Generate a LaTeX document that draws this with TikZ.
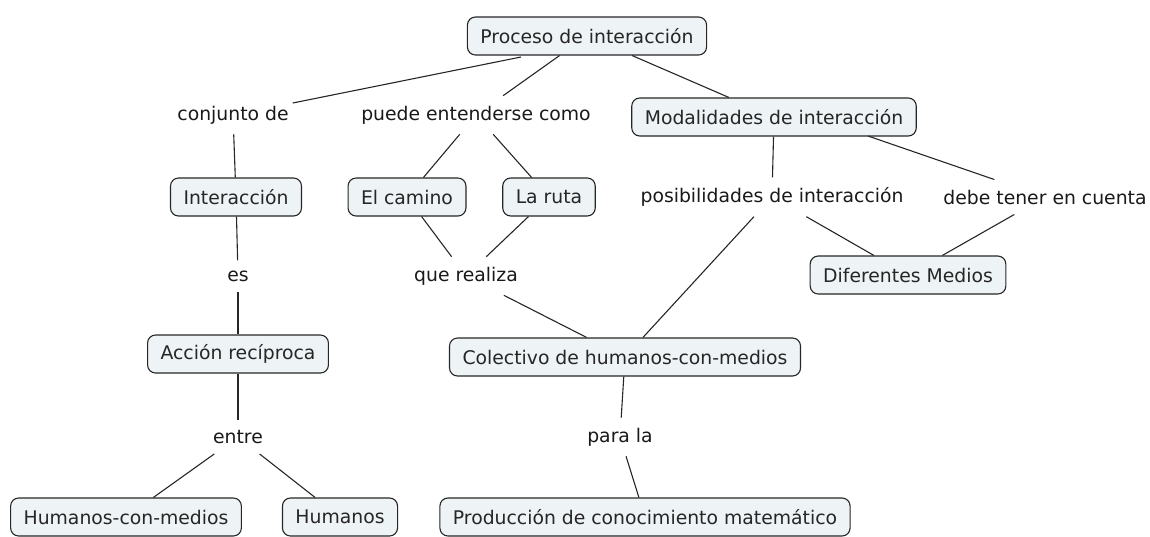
\documentclass[tikz,border=0pt]{standalone}
\usepackage{fontspec}
\setmainfont{DejaVu Sans}
\begin{document}
\begin{tikzpicture}[x=1pt,y=-1pt,
  concept/.style={draw=black!85, line width=1.1pt, rounded corners=8pt, fill=cbox, text=black!85,
    font=\fontsize{18.8}{20}\selectfont, minimum height=38pt, inner xsep=13pt, inner ysep=0pt},
  link/.style={text=black!90, font=\fontsize{18.8}{20}\selectfont, inner xsep=4pt, inner ysep=10pt},
  conn/.style={draw=black!85, line width=1.1pt}]
\definecolor{cbox}{HTML}{EEF3F6}
\useasboundingbox (0,0) rectangle (1150,536);
\node[concept] (proc) at (587,36) {Proceso de interacción};
\node[concept] (moda) at (774,117) {Modalidades de interacción};
\node[concept] (inter) at (236,197) {Interacción};
\node[concept] (cam) at (407,197) {El camino};
\node[concept] (ruta) at (549,197) {La ruta};
\node[concept] (dif) at (908,275) {Diferentes Medios};
\node[concept] (acc) at (238,354) {Acción recíproca};
\node[concept] (col) at (625,357) {Colectivo de humanos-con-medios};
\node[concept] (hcm) at (126,517) {Humanos-con-medios};
\node[concept] (hum) at (340,517) {Humanos};
\node[concept] (prod) at (645,517) {Producción de conocimiento matemático};

\node[link] (conj) at (233,115) {conjunto de};
\node[link] (puede) at (476,115) {puede entenderse como};
\node[link] (posi) at (772,197) {posibilidades de interacción};
\node[link] (debe) at (1045,197) {debe tener en cuenta};
\node[link] (es) at (238,276) {es};
\node[link] (quer) at (466,276) {que realiza};
\node[link] (entre) at (238,437) {entre};
\node[link] (para) at (620,437) {para la};

\coordinate (procL) at (521,57);
\coordinate (modaR) at (868,136);
\draw[conn] (procL) -- (conj);
\draw[conn] (proc) -- (puede);
\draw[conn] (proc) -- (moda);
\draw[conn] (conj) -- (inter);
\draw[conn] (puede) -- (cam);
\draw[conn] (puede) -- (ruta);
\draw[conn] (cam) -- (quer);
\draw[conn] (ruta) -- (quer);
\draw[conn] (quer) -- (col);
\draw[conn] (moda) -- (posi);
\draw[conn] (modaR) -- (debe);
\draw[conn] (posi) -- (col);
\draw[conn] (posi) -- (dif);
\draw[conn] (debe) -- (dif);
\draw[conn] (inter) -- (es);
\draw[conn] (es) -- (acc);
\draw[conn] (acc) -- (entre);
\draw[conn] (entre) -- (hcm);
\draw[conn] (entre) -- (hum);
\draw[conn] (col) -- (para);
\draw[conn] (para) -- (prod);
\end{tikzpicture}
\end{document}
